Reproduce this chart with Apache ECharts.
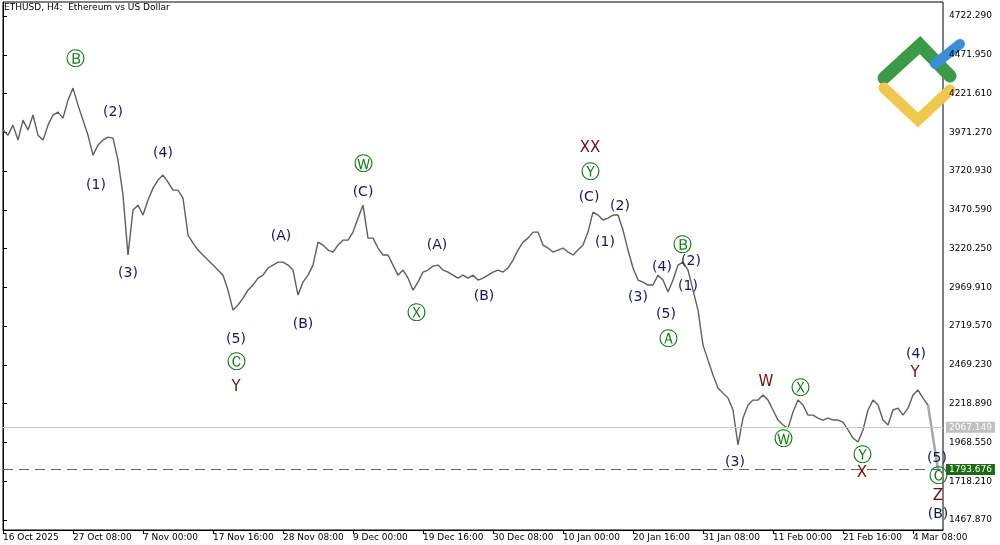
<!DOCTYPE html>
<html><head><meta charset="utf-8">
<script src="https://cdn.jsdelivr.net/npm/echarts@6/dist/echarts.min.js"></script>
<style>html,body{margin:0;background:#fff}#c{width:1000px;height:545px}</style>
</head><body><div id="c"></div>
<script>
// ETHUSD H4 closes (approx)
const prices = [3986,3953,4018,3921,4050,3986,4083,3953,3921,4018,4083,4102,4063,4179,4257,4147,4050,3953,3824,3889,
3921,3940,3934,3792,3566,3179,3469,3501,3437,3534,3611,3663,3695,3650,3598,3598,3547,3308,3256,3211,
3179,3146,3114,3082,3049,2952,2823,2856,2901,2952,2985,3030,3049,3095,3114,3133,3133,3114,3082,2920,
3004,3049,3114,3262,3243,3211,3198,3243,3275,3275,3327,3417,3501,3288,3288,3224,3179,3179,3114,3049,
3082,3030,2952,3004,3069,3082,3107,3114,3082,3069,3049,3030,3049,3030,3049,3017,3030,3049,3069,3082,
3069,3095,3146,3211,3262,3288,3327,3327,3243,3224,3198,3211,3224,3198,3179,3211,3243,3327,3456,3437,
3405,3417,3437,3437,3340,3211,3095,3017,3004,2985,2985,3049,3017,2940,3017,3114,3133,3082,2952,2823,
2597,2500,2404,2320,2287,2255,2178,1952,2126,2210,2242,2242,2275,2242,2178,2113,2081,2061,2165,2242,
2210,2145,2145,2126,2113,2126,2113,2113,2100,2049,1997,1971,2049,2178,2242,2210,2113,2081,2178,2190,
2145,2190,2275,2307,2255,2210];
const projection = [[185,2210],[186,2002],[187,1794]];
const dateLabels = ['16 Oct 2025','27 Oct 08:00','7 Nov 00:00','17 Nov 16:00','28 Nov 08:00','9 Dec 00:00','19 Dec 16:00',
'30 Dec 08:00','10 Jan 00:00','20 Jan 16:00','31 Jan 08:00','11 Feb 00:00','21 Feb 16:00','4 Mar 08:00'];
const priceTicks = [1467.870,1718.210,1968.550,2218.890,2469.230,2719.570,2969.910,3220.250,3470.590,3720.930,3971.270,4221.610,4471.950,4722.290];
const lastPrice = 2067.149;
const levelPrice = 1793.676;
// wave labels: [text, bar index, price, kind]
const waveLabels = [
['Ⓑ',14.4,4438,'g'],['(2)',22,4102,'n'],['(1)',18.6,3630,'n'],['(4)',32,3837,'n'],['(3)',25,3062,'n'],
['(5)',46.6,2636,'n'],['Ⓒ',46.6,2481,'g'],['Y',46.6,2326,'r'],['(A)',55.6,3301,'n'],['(B)',60,2733,'n'],
['Ⓦ',72,3760,'y'],['(C)',72,3585,'n'],['Ⓧ',82.6,2797,'y'],['(A)',86.8,3243,'n'],['(B)',96.2,2914,'n'],
['XX',117.4,3869,'r'],['Ⓨ',117.4,3708,'y'],['(C)',117.2,3553,'n'],['(2)',123.4,3495,'n'],['(1)',120.4,3262,'n'],
['(3)',127,2907,'n'],['(4)',131.8,3101,'n'],['(5)',132.6,2797,'n'],['Ⓐ',133,2630,'g'],['Ⓑ',135.8,3237,'g'],
['(2)',137.6,3140,'n'],['(1)',137,2978,'n'],['(3)',146.4,1842,'n'],['W',152.6,2358,'r'],['Ⓧ',159.4,2313,'y'],
['Ⓦ',156,1984,'y'],['Ⓨ',171.8,1881,'y'],['X',171.8,1771,'r'],['(4)',182.6,2539,'n'],['Y',182.4,2416,'r'],
['(5)',186.8,1868,'n'],['Ⓒ',187,1745,'g'],['Z',187,1622,'r'],['(B)',187,1506,'n']
];
const colors = {n:'#161660', g:'#0c7a10', y:'#0c7a10', r:'#7a0a0a'};
const sizes = {n:14, g:19, y:19, r:15};

const N = 189;
const cats = [];
for (let i = 0; i < N; i++) cats.push(i % 14 === 0 && dateLabels[i / 14] ? dateLabels[i / 14] : '');

const chart = echarts.init(document.getElementById('c'));
chart.setOption({
  animation: false,
  textStyle: {fontFamily: 'DejaVu Sans'},
  grid: {left: 3, right: 57, top: 2, bottom: 15, show: true, borderColor: '#000', borderWidth: 1},
  xAxis: [{
    type: 'category', data: cats, boundaryGap: false,
    axisLine: {lineStyle: {color: '#000'}},
    axisTick: {interval: (i) => i % 14 === 0, length: 4, lineStyle: {color: '#000'}},
    axisLabel: {interval: 0, color: '#000', fontSize: 9, margin: 3, align: 'left'},
    splitLine: {show: false}
  }, {
    type: 'value', min: 0, max: N - 1, show: false
  }],
  yAxis: {
    type: 'value', position: 'right', min: 1403, max: 4813, scale: true,
    axisLine: {show: true, lineStyle: {color: '#000'}},
    axisTick: {show: true, length: 4, customValues: priceTicks, lineStyle: {color: '#000'}},
    axisLabel: {color: '#000', fontSize: 9, margin: 6, customValues: priceTicks, formatter: v => v.toFixed(3)},
    splitLine: {show: false}
  },
  series: [{
    type: 'line', data: prices, symbol: 'none',
    lineStyle: {color: '#5e5e5e', width: 1.4},
    markLine: {
      symbol: 'none', silent: true,
      data: [
        {yAxis: lastPrice, lineStyle: {color: '#c8c8c8', type: 'solid', width: 1},
          label: {position: 'end', formatter: lastPrice.toFixed(3), color: '#fff', backgroundColor: '#c0c0c0', fontSize: 9, padding: [1, 3], distance: 3}},
        {yAxis: levelPrice, lineStyle: {color: '#5a6a5a', type: [10, 6], width: 1},
          label: {position: 'end', formatter: levelPrice.toFixed(3), color: '#fff', backgroundColor: '#1c6a14', fontSize: 9, padding: [1, 3], distance: 3}}
      ]
    }
  }, {
    type: 'line', xAxisIndex: 1, data: projection, symbol: 'none',
    lineStyle: {color: '#a8a8a8', width: 2.5}
  }, {
    type: 'scatter', xAxisIndex: 1, symbolSize: 0, itemStyle: {opacity: 1}, z: 10,
    data: waveLabels.map(w => ({value: [w[1], w[2]],
      label: {show: true, position: 'inside', formatter: w[0], color: colors[w[3]], fontSize: sizes[w[3]], opacity: 1}}))
  }],
  graphic: [
    {type: 'text', left: 4, top: 3, style: {text: 'ETHUSD, H4:  Ethereum vs US Dollar', fontSize: 9, fill: '#000', fontFamily: 'DejaVu Sans'}},
    {type: 'polyline', shape: {points: [[884, 78], [920, 45], [950, 76]]}, style: {stroke: '#3a9a48', lineWidth: 13, fill: null, lineCap: 'round'}},
    {type: 'line', shape: {x1: 935, y1: 64, x2: 960, y2: 44}, style: {stroke: '#3a8fd8', lineWidth: 10, lineCap: 'round'}},
    {type: 'polyline', shape: {points: [[884, 88], [918, 120], [950, 90]]}, style: {stroke: '#f0c850', lineWidth: 11, fill: null, lineCap: 'round'}}
  ]
});
</script></body></html>
